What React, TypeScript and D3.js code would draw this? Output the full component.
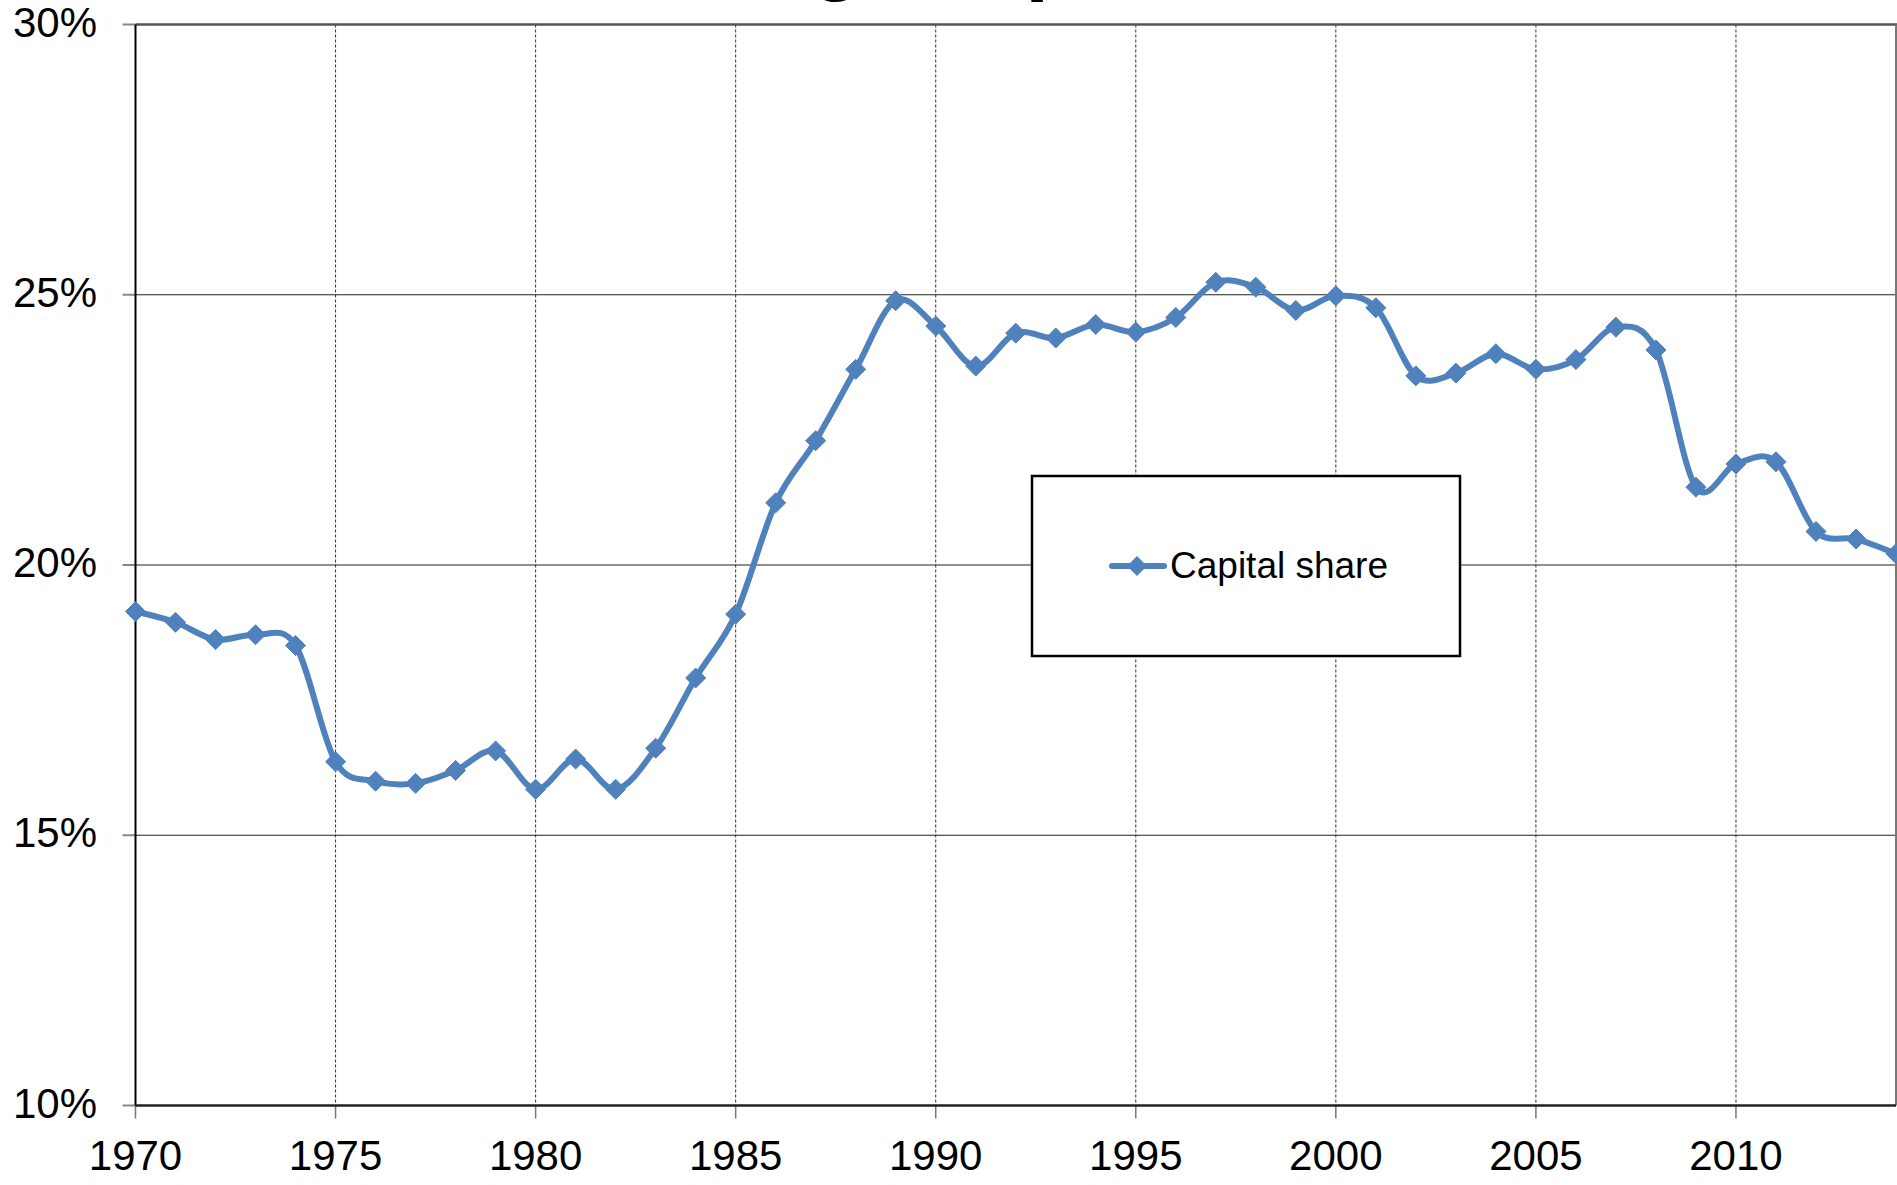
import React from "react";
import * as d3 from "d3";

const years: number[] = [
  1970, 1971, 1972, 1973, 1974, 1975, 1976, 1977, 1978, 1979,
  1980, 1981, 1982, 1983, 1984, 1985, 1986, 1987, 1988, 1989,
  1990, 1991, 1992, 1993, 1994, 1995, 1996, 1997, 1998, 1999,
  2000, 2001, 2002, 2003, 2004, 2005, 2006, 2007, 2008, 2009,
  2010, 2011, 2012, 2013, 2014,
];
const capitalShare: number[] = [
  19.14, 18.94, 18.62, 18.71, 18.51, 16.36, 16.0, 15.96, 16.2, 16.56,
  15.85, 16.41, 15.85, 16.61, 17.91, 19.09, 21.15, 22.3, 23.62, 24.89,
  24.42, 23.68, 24.29, 24.2, 24.45, 24.31, 24.58, 25.23, 25.14, 24.71,
  24.98, 24.76, 23.5, 23.55, 23.91, 23.62, 23.8, 24.4, 23.98, 21.44,
  21.87, 21.91, 20.62, 20.48, 20.21,
];
const yTicks: number[] = [10, 15, 20, 25, 30];
const xTicks: number[] = [1970, 1975, 1980, 1985, 1990, 1995, 2000, 2005, 2010];
const seriesName = "Capital share";
const titleText = "Average capital share";

const W = 1897;
const H = 1185;
const left = 135.5;
const right = 1896;
const top = 24.5;
const bottom = 1105.5;
const blue = "#4F81BD";
const font = "Arial, 'Liberation Sans', Helvetica, sans-serif";

const diamond = (cx: number, cy: number, r: number) =>
  `M${cx},${cy - r}L${cx + r},${cy}L${cx},${cy + r}L${cx - r},${cy}Z`;

export default function App() {
  const x = d3.scaleLinear().domain([1970, 2014]).range([left, right]);
  const y = d3.scaleLinear().domain([10, 30]).range([bottom, top]);
  const pts: [number, number][] = years.map((yr, i) => [x(yr), y(capitalShare[i])]);
  const line = d3.line<[number, number]>().curve(d3.curveCardinal.tension(0))(pts) || "";

  return (
    <svg
      width={W}
      height={H}
      viewBox={`0 0 ${W} ${H}`}
      style={{ position: "absolute", left: 0, top: 0, background: "#fff" }}
    >
      <rect x={0} y={0} width={W} height={H} fill="#fff" />
      <text
        x={1013}
        y={-15}
        textAnchor="middle"
        fontFamily={font}
        fontWeight="bold"
        fontSize={84}
        fill="#000"
      >
        {titleText}
      </text>

      {/* vertical dashed gridlines */}
      {xTicks.filter((t) => t !== 1970).map((t) => (
        <line
          key={"vg" + t}
          x1={x(t)}
          x2={x(t)}
          y1={top}
          y2={bottom}
          stroke="#333"
          strokeWidth={1}
          strokeDasharray="3,2"
        />
      ))}
      {/* horizontal gridlines */}
      {yTicks.filter((t) => t !== 10 && t !== 30).map((t) => (
        <line key={"hg" + t} x1={left} x2={right} y1={y(t)} y2={y(t)} stroke="#222" strokeWidth={1.2} />
      ))}
      {/* top border */}
      <line x1={left} x2={W} y1={y(30)} y2={y(30)} stroke="#555" strokeWidth={2.5} />
      {/* right border */}
      <line x1={right} x2={right} y1={top} y2={bottom} stroke="#777" strokeWidth={2} />
      {/* y ticks */}
      {yTicks.map((t) => (
        <line key={"yt" + t} x1={left - 13} x2={left} y1={y(t)} y2={y(t)} stroke="#888" strokeWidth={2} />
      ))}
      {/* x ticks */}
      {xTicks.map((t) => (
        <line key={"xt" + t} x1={x(t)} x2={x(t)} y1={bottom} y2={bottom + 13} stroke="#777" strokeWidth={1.5} />
      ))}
      {/* axes */}
      <line x1={left} x2={left} y1={top} y2={bottom} stroke="#000" strokeWidth={2} />
      <line x1={left} x2={right} y1={bottom} y2={bottom} stroke="#222" strokeWidth={2.5} />

      {/* y labels */}
      {yTicks.map((t) => (
        <text
          key={"yl" + t}
          x={97}
          y={y(t) + 12}
          textAnchor="end"
          fontFamily={font}
          fontSize={42}
          fill="#000"
        >
          {`${t}%`}
        </text>
      ))}
      {/* x labels */}
      {xTicks.map((t) => (
        <text
          key={"xl" + t}
          x={x(t)}
          y={1170}
          textAnchor="middle"
          fontFamily={font}
          fontSize={42}
          fill="#000"
        >
          {t}
        </text>
      ))}

      {/* series */}
      <path d={line} fill="none" stroke={blue} strokeWidth={6} strokeLinejoin="round" strokeLinecap="round" />
      {pts.map(([px, py], i) => (
        <path key={"m" + i} d={diamond(px, py, 10)} fill={blue} stroke={blue} strokeWidth={1} />
      ))}

      {/* legend */}
      <rect x={1032} y={476} width={428} height={180} fill="#fff" stroke="#000" strokeWidth={2.5} />
      <line x1={1112} x2={1164} y1={566} y2={566} stroke={blue} strokeWidth={6} strokeLinecap="round" />
      <path d={diamond(1137, 566, 10)} fill={blue} />
      <text x={1170} y={578} fontFamily={font} fontSize={37} fill="#000">
        {seriesName}
      </text>
    </svg>
  );
}
